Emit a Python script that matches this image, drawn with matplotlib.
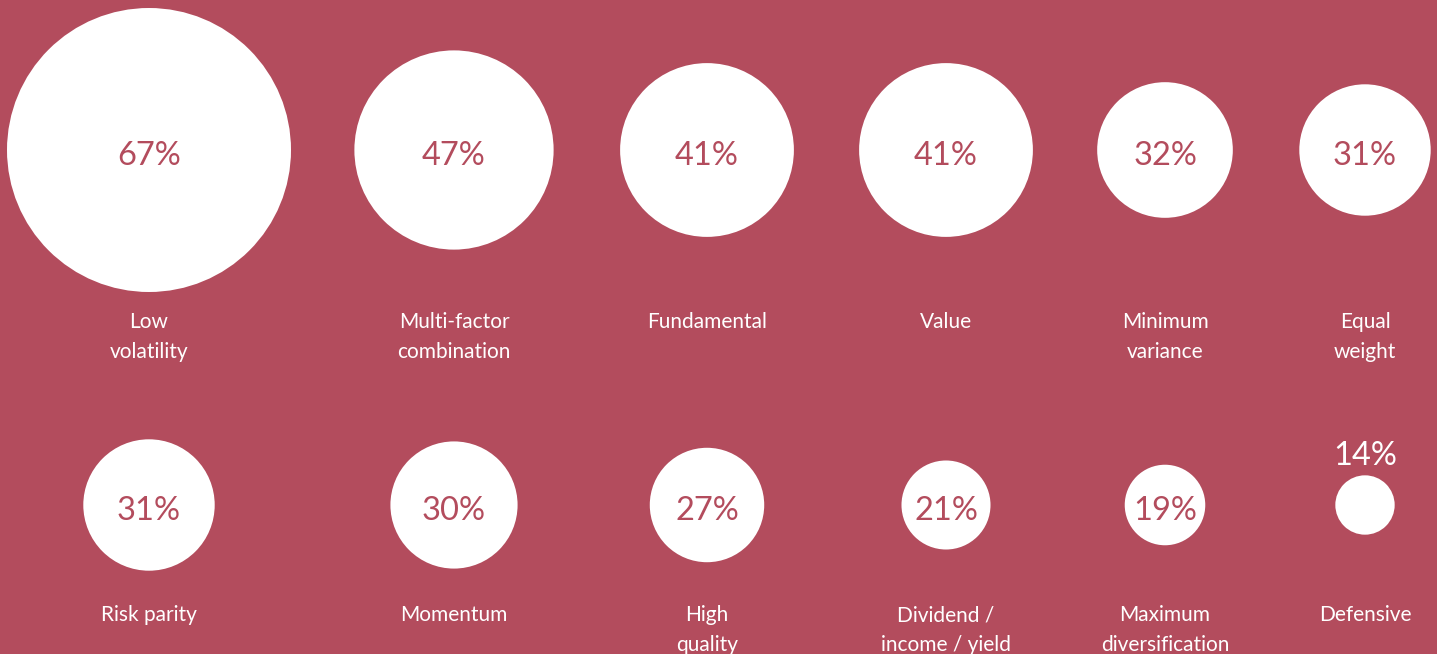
import matplotlib
matplotlib.use("Agg")
import matplotlib.pyplot as plt
from matplotlib.patches import Circle

# data
labels_top = ["Low\nvolatility", "Multi-factor\ncombination", "Fundamental", "Value", "Minimum\nvariance", "Equal\nweight"]
values_top = [67, 47, 41, 41, 32, 31]
labels_bot = ["Risk parity", "Momentum", "High\nquality", "Dividend /\nincome / yield", "Maximum\ndiversification", "Defensive"]
values_bot = [31, 30, 27, 21, 19, 14]

bg = "#B34C5D"
W, H = 1437, 654
col_x = [149, 454, 707, 946, 1165, 1365]
row_y = [150, 505]
label_y = [320, 613]
scale = 142 / 67  # radius in px per percentage point
font = ["Lato", "DejaVu Sans"]

fig = plt.figure(figsize=(W / 100, H / 100), dpi=100)
fig.patch.set_facecolor(bg)
ax = fig.add_axes([0, 0, 1, 1])
ax.set_facecolor(bg)
ax.set_xlim(0, W)
ax.set_ylim(H, 0)
ax.set_aspect("equal")
ax.axis("off")

for r, (labels, values) in enumerate([(labels_top, values_top), (labels_bot, values_bot)]):
    cy = row_y[r]
    for x, lab, v in zip(col_x, labels, values):
        rad = v * scale
        ax.add_patch(Circle((x, cy), rad, facecolor="white", edgecolor="none"))
        if rad > 35:
            ax.text(x, cy + 6, f"{v}%", ha="center", va="center", color=bg,
                    fontsize=23.5, family=font)
        else:
            ax.text(x, cy - rad - 19, f"{v}%", ha="center", va="center", color="white",
                    fontsize=23.5, family=font)
        ax.text(x, label_y[r] - 8, lab, ha="center", va="top", color="white",
                fontsize=15, family=font, linespacing=1.6)

fig.savefig("out.png", dpi=100, facecolor=bg)
